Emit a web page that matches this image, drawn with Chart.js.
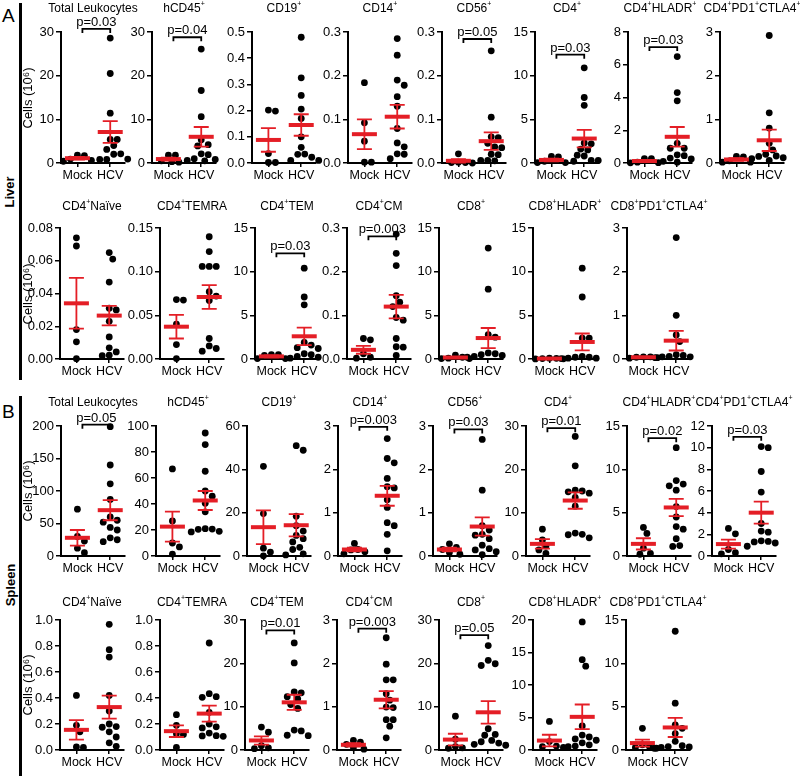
<!DOCTYPE html>
<html>
<head>
<meta charset="utf-8">
<script src="https://cdn.jsdelivr.net/npm/chart.js@4.4.0/dist/chart.umd.min.js"></script>
<style>
body { margin: 0; background: #fff; }
#fig { position: relative; width: 800px; height: 777px; overflow: hidden; font-family: 'Liberation Sans', Arial, sans-serif; color: #000; }
.panel { position: absolute; }
.lbl { position: absolute; white-space: nowrap; }
.rot { position: absolute; width: 120px; height: 16px; line-height: 16px; text-align: center; transform: rotate(-90deg); white-space: nowrap; }
.bar { position: absolute; background: #000; width: 2.5px; }
</style>
</head>
<body>
<div id="fig">
  <div class="lbl" style="left:2px;top:5px;font-size:19px;">A</div>
  <div class="lbl" style="left:2px;top:401px;font-size:19px;">B</div>
  <div class="bar" style="left:19px;top:3px;height:377px;"></div>
  <div class="bar" style="left:19px;top:396px;height:380px;"></div>
  <div class="rot" style="left:-50px;top:184px;font-size:13px;font-weight:bold;">Liver</div>
  <div class="rot" style="left:-49px;top:577px;font-size:13px;font-weight:bold;">Spleen</div>
</div>
<script>
// Panel titles ('+' is drawn as superscript)
const titles = [
    'Total Leukocytes', 'hCD45+', 'CD19+', 'CD14+', 'CD56+', 'CD4+', 'CD4+HLADR+', 'CD4+PD1+CTLA4+',
    'CD4+Naïve', 'CD4+TEMRA', 'CD4+TEM', 'CD4+CM', 'CD8+', 'CD8+HLADR+', 'CD8+PD1+CTLA4+'
];
const groups = ['Mock', 'HCV'];
const yTitle = 'Cells (10⁶)';

// ---- Liver ----
const liverMax  = [30, 30, 0.5, 0.3, 0.3, 15, 8, 3, 0.08, 0.15, 15, 0.3, 15, 15, 3];
const liverStep = [10, 10, 0.1, 0.1, 0.1, 5, 2, 1, 0.02, 0.05, 5, 0.1, 5, 5, 1];
const liverMock = [
    [1.8, 1.7, 0.9, 0.6, 0.4],
    [1.8, 1.8, 0.5, 0.3, 0.2],
    [0.202, 0.198, 0.036, 0.002, 0.002],
    [0.184, 0.092, 0.05, 0.002, 0.002],
    [0.021, 0.002, 0.001, 0.001, 0.0],
    [0.75, 0.7, 0.2, 0.05, 0.05],
    [0.27, 0.27, 0.05, 0.02, 0.01],
    [0.15, 0.14, 0.05, 0.02, 0.02],
    [0.074, 0.069, 0.018, 0.0105, 0.0002],
    [0.068, 0.0675, 0.04, 0.0165, 0.0005],
    [0.5, 0.5, 0.4, 0.05, 0.05],
    [0.047, 0.044, 0.012, 0.004, 0.002],
    [0.45, 0.2, 0.1, 0.05, 0.05],
    [0.1, 0.08, 0.05, 0.02, 0.01],
    [0.05, 0.05, 0.04, 0.03, 0.02]
];
const liverHcv = [
    [28.6, 20.5, 11.4, 5.4, 5.4, 4.0, 3.1, 2.0, 2.1, 0.8, 0.8, 0.9],
    [26.1, 16.6, 10.6, 5.3, 4.2, 3.9, 2.1, 1.9, 1.0, 0.8, 0.6, 0.5],
    [0.48, 0.325, 0.258, 0.206, 0.17, 0.1, 0.06, 0.034, 0.033, 0.022, 0.01, 0.01],
    [0.285, 0.247, 0.19, 0.178, 0.152, 0.13, 0.079, 0.046, 0.037, 0.021, 0.02, 0.01],
    [0.257, 0.105, 0.06, 0.058, 0.045, 0.037, 0.035, 0.02, 0.019, 0.006, 0.006, 0.005],
    [10.9, 7.5, 6.6, 2.3, 2.2, 1.6, 1.5, 0.9, 0.8, 0.3, 0.3, 0.2],
    [6.5, 4.3, 3.8, 1.2, 0.9, 0.9, 0.5, 0.45, 0.3, 0.25, 0.1, 0.05],
    [2.92, 1.15, 0.8, 0.45, 0.3, 0.2, 0.16, 0.15, 0.12, 0.1, 0.06, 0.05],
    [0.065, 0.061, 0.047, 0.031, 0.03, 0.023, 0.0135, 0.0068, 0.0043, 0.0023, 0.002],
    [0.14, 0.123, 0.106, 0.106, 0.106, 0.077, 0.072, 0.067, 0.0235, 0.015, 0.012, 0.009],
    [10.4, 7.1, 6.2, 1.9, 1.6, 1.3, 1.2, 0.6, 0.5, 0.3, 0.2, 0.1],
    [0.286, 0.242, 0.214, 0.145, 0.13, 0.12, 0.095, 0.089, 0.047, 0.028, 0.027, 0.008],
    [12.7, 8.0, 2.8, 2.5, 0.7, 0.6, 0.5, 0.4, 0.3, 0.2, 0.2, 0.1],
    [10.4, 7.1, 2.4, 2.4, 0.3, 0.2, 0.2, 0.1, 0.1, 0.05, 0.05, 0.02],
    [2.78, 1.0, 0.55, 0.4, 0.1, 0.08, 0.06, 0.05, 0.05, 0.04, 0.03, 0.02]
];
const liverMockMean = [1.1, 0.9, 0.088, 0.066, 0.005, 0.35, 0.12, 0.08, 0.034, 0.037, 0.3, 0.021, 0.17, 0.05, 0.04];
const liverMockSem  = [0.3, 0.35, 0.045, 0.034, 0.004, 0.15, 0.06, 0.03, 0.0155, 0.0135, 0.1, 0.009, 0.08, 0.02, 0.01];
const liverHcvMean  = [7.1, 6.0, 0.145, 0.106, 0.05, 2.8, 1.6, 0.52, 0.0265, 0.071, 2.6, 0.12, 2.4, 1.95, 0.42];
const liverHcvSem   = [2.5, 2.25, 0.041, 0.027, 0.02, 1.0, 0.6, 0.245, 0.006, 0.0135, 1.0, 0.027, 1.15, 0.97, 0.225];
const liverP        = ['p=0.03', 'p=0.04', null, null, 'p=0.05', 'p=0.03', 'p=0.03', null, null, null, 'p=0.03', 'p=0.003', null, null, null];
const liverBracket  = [30.7, 28.8, null, null, 0.284, 12.4, 7.08, null, null, null, 12.1, 0.281, null, null, null];

// ---- Spleen ----
const spleenMax  = [200, 100, 60, 3, 3, 30, 15, 12, 1.0, 1.0, 30, 3, 30, 20, 15];
const spleenStep = [50, 20, 20, 1, 1, 10, 5, 2, 0.2, 0.2, 10, 1, 10, 5, 5];
const spleenMock = [
    [72, 30, 23, 12, 5],
    [67, 27, 10, 7, 1.5],
    [41.4, 19.6, 3.6, 1.8, 0.1],
    [0.29, 0.15, 0.14, 0.1, 0.05],
    [0.28, 0.2, 0.15, 0.08, 0.04],
    [6.2, 3.7, 2.3, 1.4, 0.6],
    [3.3, 2.6, 0.9, 0.3, 0.2],
    [2.55, 2.05, 0.6, 0.3, 0.2],
    [0.42, 0.19, 0.14, 0.023, 0.02],
    [0.272, 0.19, 0.125, 0.12, 0.02],
    [5.3, 4.1, 1.0, 0.5, 0.3],
    [0.22, 0.18, 0.13, 0.05, 0.02],
    [7.8, 2.5, 0.8, 0.5, 0.4],
    [4.4, 1.3, 0.6, 0.5, 0.4],
    [2.5, 0.6, 0.4, 0.3, 0.2]
];
const spleenHcv = [
    [199, 140, 111, 87, 60, 55, 52, 44, 40, 28, 25, 22],
    [94.6, 85.7, 65.2, 50, 46, 40.5, 34, 21, 20.7, 20.5, 19, 18.5],
    [50.9, 48.8, 18.4, 14, 11.5, 9.5, 8, 6.5, 4, 3, 1, 0.5],
    [2.71, 2.25, 2.15, 1.79, 1.6, 1.57, 1.3, 1.12, 0.77, 0.7, 0.5, 0.12],
    [2.69, 1.52, 0.7, 0.6, 0.5, 0.48, 0.4, 0.25, 0.17, 0.14, 0.1, 0.03],
    [27.6, 20.8, 15.2, 15, 14.8, 14.5, 13.5, 11.5, 5.3, 5.0, 4.9, 4.2],
    [12.5, 8.7, 8.3, 8.1, 7.6, 5.7, 4.5, 3.4, 3.1, 2.0, 1.2, 1.1],
    [10.1, 10.0, 7.8, 5.9, 3.0, 2.3, 2.2, 1.4, 1.35, 1.3, 1.2, 0.9],
    [0.967, 0.772, 0.715, 0.42, 0.3, 0.2, 0.18, 0.175, 0.14, 0.1, 0.055, 0.028],
    [0.823, 0.433, 0.41, 0.405, 0.29, 0.2, 0.178, 0.17, 0.13, 0.11, 0.108, 0.105],
    [24.7, 20.1, 13.4, 13.2, 12.3, 11.8, 10.5, 9.6, 4.6, 4.4, 3.4, 3.3],
    [2.59, 1.98, 1.62, 1.62, 1.3, 1.15, 0.99, 0.98, 0.7, 0.7, 0.55, 0.28],
    [24.1, 20.7, 19.9, 19.5, 4.9, 3.6, 3.4, 2.2, 1.9, 1.6, 1.3, 1.1],
    [19.7, 13.9, 12.9, 3.7, 2.3, 2.0, 1.7, 1.5, 1.1, 0.8, 0.6, 0.5],
    [13.7, 5.4, 2.9, 2.5, 1.9, 1.0, 0.5, 0.4, 0.35, 0.3, 0.25, 0.2]
];
const spleenMockMean = [28, 22.6, 13.3, 0.15, 0.15, 2.8, 1.4, 1.1, 0.155, 0.145, 2.2, 0.12, 2.4, 1.45, 0.8];
const spleenMockSem  = [12, 11.5, 7.8, 0.04, 0.04, 1.1, 0.65, 0.42, 0.075, 0.045, 0.95, 0.04, 1.35, 0.9, 0.4];
const spleenHcvMean  = [70.5, 42.7, 14.2, 1.39, 0.68, 12.8, 5.6, 4.0, 0.33, 0.28, 11.0, 1.16, 8.7, 5.1, 2.6];
const spleenHcvSem   = [15.5, 7.3, 5.1, 0.23, 0.21, 1.9, 1.0, 1.02, 0.088, 0.062, 1.75, 0.2, 2.6, 1.9, 1.1];
const spleenP        = ['p=0.05', null, null, 'p=0.003', 'p=0.03', 'p=0.01', 'p=0.02', 'p=0.03', null, null, 'p=0.01', 'p=0.003', 'p=0.05', null, null];
const spleenBracket  = [202, null, null, 2.98, 2.92, 29.5, 13.6, 11.0, null, null, 27.6, 2.8, 26.5, null, null];

// Layout of the four rows (pixel positions of each panel's y axis)
const rows = [
    { tissue: 'liver',  first: 0, plotTop: 32,  plotH: 131, titleOff: 25, axes: [61, 152, 252, 348, 442, 535, 628, 720] },
    { tissue: 'liver',  first: 8, plotTop: 228, plotH: 131, titleOff: 23, axes: [60, 160, 255, 347, 439, 533, 627] },
    { tissue: 'spleen', first: 0, plotTop: 426, plotH: 130, titleOff: 25, axes: [61, 156, 247, 338, 433, 526, 627, 712] },
    { tissue: 'spleen', first: 8, plotTop: 620, plotH: 130, titleOff: 19, axes: [60, 160, 245, 337, 439, 533, 626] }
];

const FONT = "'Liberation Sans', Arial, sans-serif";
const RED = '#e41e26';
const Y_W = 46, PLOT_W = 64, RIGHT_PAD = 22, TOP_PAD = 34, X_H = 22;
const X_MIN = 0.5, X_MAX = 2.45;
const DOT_R = 3.4;

Chart.defaults.font.family = FONT;
Chart.defaults.color = '#000';

const tissues = {
    liver: { max: liverMax, step: liverStep, mock: liverMock, hcv: liverHcv, mockMean: liverMockMean, mockSem: liverMockSem,
             hcvMean: liverHcvMean, hcvSem: liverHcvSem, p: liverP, bracket: liverBracket },
    spleen: { max: spleenMax, step: spleenStep, mock: spleenMock, hcv: spleenHcv, mockMean: spleenMockMean, mockSem: spleenMockSem,
              hcvMean: spleenHcvMean, hcvSem: spleenHcvSem, p: spleenP, bracket: spleenBracket }
};

// Spread points sideways so that they do not overlap (like a dot plot)
function swarm(values, yMax, plotH) {
    const pxPerX = PLOT_W / (X_MAX - X_MIN);
    const placed = [];
    return values.map(v => {
        const py = v / yMax * plotH;
        for (let i = 0; i < 40; i++) {
            const off = i === 0 ? 0 : (i % 2 ? 1 : -1) * Math.ceil(i / 2) * 3.5;
            if (placed.every(p => Math.hypot(p.x - off, p.y - py) >= 7)) {
                placed.push({ x: off, y: py });
                return off / pxPerX;
            }
        }
        return 0;
    });
}

function decimals(step) {
    const s = String(step);
    return s.includes('.') ? s.split('.')[1].length : 0;
}

function drawRich(ctx, text, cx, baseline, size) {
    const parts = text.split(/(\+)/).filter(Boolean);
    const big = size + 'px ' + FONT;
    const small = Math.round(size * 0.62) + 'px ' + FONT;
    let w = 0;
    parts.forEach(p => { ctx.font = p === '+' ? small : big; w += ctx.measureText(p).width; });
    let xx = cx - w / 2;
    ctx.textAlign = 'left';
    ctx.textBaseline = 'alphabetic';
    parts.forEach(p => {
        const sup = p === '+';
        ctx.font = sup ? small : big;
        ctx.fillText(p, xx, sup ? baseline - size * 0.45 : baseline);
        xx += ctx.measureText(p).width;
    });
}

function extrasPlugin(t, i, titleOff) {
    return {
        id: 'extras' + i,
        afterDatasetsDraw(chart) {
            const { ctx, chartArea, scales: { x, y } } = chart;
            ctx.save();
            // mean +/- SEM
            [[1, t.mockMean[i], t.mockSem[i]], [2, t.hcvMean[i], t.hcvSem[i]]].forEach(([g, mean, sem]) => {
                const cx = x.getPixelForValue(g);
                const ym = y.getPixelForValue(mean);
                const yt = y.getPixelForValue(mean + sem);
                const yb = y.getPixelForValue(Math.max(0, mean - sem));
                ctx.strokeStyle = RED;
                ctx.lineWidth = 1.8;
                ctx.beginPath();
                ctx.moveTo(cx, yt); ctx.lineTo(cx, yb);
                ctx.moveTo(cx - 7.5, yt); ctx.lineTo(cx + 7.5, yt);
                ctx.moveTo(cx - 7.5, yb); ctx.lineTo(cx + 7.5, yb);
                ctx.stroke();
                ctx.lineWidth = 4;
                ctx.beginPath();
                ctx.moveTo(cx - 12.5, ym); ctx.lineTo(cx + 12.5, ym);
                ctx.stroke();
            });
            // title
            ctx.fillStyle = '#000';
            drawRich(ctx, titles[i], (chartArea.left + chartArea.right) / 2, chartArea.top - titleOff + 4.5, 12);
            // significance bracket
            if (t.p[i]) {
                const by = y.getPixelForValue(t.bracket[i]);
                const x1 = x.getPixelForValue(1) + 5, x2 = x.getPixelForValue(2);
                ctx.strokeStyle = '#000';
                ctx.lineWidth = 1.8;
                ctx.beginPath();
                ctx.moveTo(x1, by + 4); ctx.lineTo(x1, by); ctx.lineTo(x2, by); ctx.lineTo(x2, by + 4);
                ctx.stroke();
                ctx.font = '13px ' + FONT;
                ctx.textAlign = 'center';
                ctx.textBaseline = 'alphabetic';
                ctx.fillText(t.p[i], (x1 + x2) / 2, by - 3);
            }
            ctx.restore();
        }
    };
}

function makePanel(row, col) {
    const t = tissues[row.tissue];
    const i = row.first + col;
    const axisX = row.axes[col];
    const W = Y_W + PLOT_W + RIGHT_PAD;
    const H = TOP_PAD + row.plotH + X_H;

    const div = document.createElement('div');
    div.className = 'panel';
    div.style.left = (axisX - Y_W) + 'px';
    div.style.top = (row.plotTop - TOP_PAD) + 'px';
    const canvas = document.createElement('canvas');
    canvas.width = W;
    canvas.height = H;
    canvas.style.width = W + 'px';
    canvas.style.height = H + 'px';
    div.appendChild(canvas);
    document.getElementById('fig').appendChild(div);

    const mockOff = swarm(t.mock[i], t.max[i], row.plotH);
    const hcvOff = swarm(t.hcv[i], t.max[i], row.plotH);
    const dec = decimals(t.step[i]);

    new Chart(canvas, {
        type: 'scatter',
        data: {
            datasets: [
                { data: t.mock[i].map((v, k) => ({ x: 1 + mockOff[k], y: v })) },
                { data: t.hcv[i].map((v, k) => ({ x: 2 + hcvOff[k], y: v })) }
            ].map(d => Object.assign(d, {
                pointRadius: DOT_R, backgroundColor: '#000', borderWidth: 0, clip: false
            }))
        },
        options: {
            responsive: false,
            animation: false,
            events: [],
            devicePixelRatio: 1,
            layout: { padding: { top: TOP_PAD, right: RIGHT_PAD, left: 0, bottom: 0 } },
            plugins: { legend: { display: false }, tooltip: { enabled: false } },
            scales: {
                x: {
                    type: 'linear', min: X_MIN, max: X_MAX,
                    afterBuildTicks: s => { s.ticks = [{ value: 1 }, { value: 2 }]; },
                    afterFit: s => { s.height = X_H; },
                    ticks: { callback: v => groups[v - 1], font: { size: 12.5 }, padding: 1, maxRotation: 0 },
                    grid: { display: true, drawOnChartArea: false, drawTicks: true, tickLength: 4, color: '#000', lineWidth: 1.5 },
                    border: { display: true, color: '#000', width: 2 }
                },
                y: {
                    min: 0, max: t.max[i],
                    afterFit: s => { s.width = Y_W; },
                    ticks: { stepSize: t.step[i], callback: v => v.toFixed(dec), font: { size: 13 }, padding: 2 },
                    grid: { display: true, drawOnChartArea: false, drawTicks: true, tickLength: 5, color: '#000', lineWidth: 1.5 },
                    border: { display: true, color: '#000', width: 2 }
                }
            }
        },
        plugins: [extrasPlugin(t, i, row.titleOff)]
    });

    if (col === 0) {
        const lab = document.createElement('div');
        lab.className = 'rot';
        lab.style.fontSize = '13px';
        lab.style.left = (28 - 60) + 'px';
        lab.style.top = (row.plotTop + row.plotH / 2 - 8) + 'px';
        lab.textContent = yTitle;
        document.getElementById('fig').appendChild(lab);
    }
}

rows.forEach(row => row.axes.forEach((_, col) => makePanel(row, col)));
</script>
</body>
</html>
